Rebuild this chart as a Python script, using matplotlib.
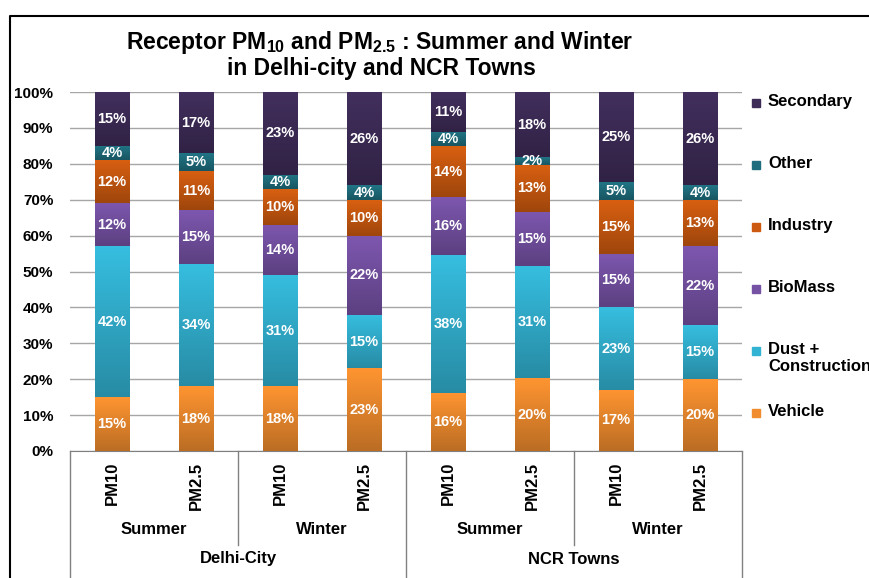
import matplotlib
matplotlib.use("Agg")
import matplotlib.pyplot as plt
from matplotlib.patches import Rectangle
from matplotlib.colors import LinearSegmentedColormap, to_rgb
from matplotlib.transforms import blended_transform_factory
import numpy as np

plt.rcParams['font.family'] = ['Liberation Sans Narrow', 'Liberation Sans', 'DejaVu Sans']
plt.rcParams['font.weight'] = 'bold'
plt.rcParams['mathtext.fontset'] = 'custom'
plt.rcParams['mathtext.rm'] = 'Liberation Sans:bold'
plt.rcParams['mathtext.default'] = 'rm'

# data (percent shares, bottom to top)
bar_labels = ["PM10", "PM2.5"] * 4
seasons = ["Summer", "Winter", "Summer", "Winter"]
regions = ["Delhi-City", "NCR Towns"]
sources = ["Vehicle", "Dust +\nConstruction", "BioMass", "Industry", "Other", "Secondary"]
vehicle = [15, 18, 18, 23, 16, 20, 17, 20]
dust = [42, 34, 31, 15, 38, 31, 23, 15]
biomass = [12, 15, 14, 22, 16, 15, 15, 22]
industry = [12, 11, 10, 10, 14, 13, 15, 13]
other = [4, 5, 4, 4, 4, 2, 5, 4]
secondary = [15, 17, 23, 26, 11, 18, 25, 26]
colors = ["#F08C2E", "#33B3D3", "#7652A5", "#CC5A10", "#1F6E7E", "#3E2C58"]

series = np.array([vehicle, dust, biomass, industry, other, secondary], dtype=float)
shares = series / series.sum(axis=0) * 100  # 100% stacked

fig = plt.figure(figsize=(8.7, 5.78), dpi=100)
W, H = 870, 578

def fx(px):
    return px / W

def fy(py):
    return 1 - py / H

def shade(c, f):
    return tuple(np.clip(np.array(to_rgb(c)) * f, 0, 1))

ax = fig.add_axes([fx(70), fy(451), fx(742) - fx(70), fy(92) - fy(451)])

x = np.arange(len(bar_labels))
grad = np.linspace(1, 0, 64).reshape(-1, 1)
bottom = np.zeros(len(x))
for vals, raw, c in zip(shares, series, colors):
    bars = ax.bar(x, vals, 0.405, bottom=bottom, color=c, zorder=3)
    cm = LinearSegmentedColormap.from_list("g", [shade(c, 0.78), shade(c, 1.06)])
    for p in bars:
        x0, y0 = p.get_x(), p.get_y()
        ax.imshow(grad, cmap=cm, aspect='auto', zorder=3.5, interpolation='bilinear',
                  extent=[x0, x0 + p.get_width(), y0, y0 + p.get_height()])
    for xi, b, v, r in zip(x, bottom, vals, raw):
        ax.text(xi, b + v / 2, "%d%%" % r, ha='center', va='center', color='white',
                fontsize=10.5, fontweight='bold', zorder=4)
    bottom += vals

ax.set_xlim(-0.5, 7.5)
ax.set_ylim(0, 100)
ax.set_yticks(np.arange(0, 101, 10))
ax.set_yticklabels(["%d%%" % v for v in range(0, 101, 10)], fontsize=11, fontweight='bold')
ax.yaxis.grid(True, color='#A6A6A6', linewidth=1, zorder=0)
ax.tick_params(axis='y', length=0, pad=12)
ax.tick_params(axis='x', length=0, pad=8)
ax.set_xticks(x)
ax.set_xticklabels(bar_labels, rotation=90, fontsize=12, fontweight='bold')
for s in ['left', 'right', 'top']:
    ax.spines[s].set_visible(False)
ax.spines['bottom'].set_color('#808080')

# multi-level category axis
tr = blended_transform_factory(ax.transData, ax.transAxes)
ph = 359.0
for i, s in enumerate(seasons):
    ax.text(2 * i + 0.5, -79 / ph, s, transform=tr, ha='center', va='center', fontsize=12, fontweight='bold')
for i, r in enumerate(regions):
    ax.text(4 * i + 1.5, -108 / ph, r, transform=tr, ha='center', va='center', fontsize=12, fontweight='bold')
for xs in [1.5, 5.5]:
    ax.plot([xs, xs], [0, -94 / ph], transform=tr, color='#808080', lw=1, clip_on=False)
for xs in [-0.5, 3.5, 7.5]:
    ax.plot([xs, xs], [0, -130 / ph], transform=tr, color='#808080', lw=1, clip_on=False)

# legend (top entry first)
for i, (name, c) in enumerate(zip(sources[::-1], colors[::-1])):
    ypx = 103 + 62 * i
    fig.patches.append(Rectangle((fx(752), fy(ypx + 4)), fx(8), 8 / H, color=c, transform=fig.transFigure))
    fig.text(fx(768), fy(ypx - 9), name, ha='left', va='top', fontsize=12, fontweight='bold', linespacing=1.2)

# title
fig.text(fx(380), fy(42), r"Receptor PM$_{10}$ and PM$_{2.5}$ : Summer and Winter",
         ha='center', va='center', fontsize=16.5, fontweight='bold')
fig.text(fx(381), fy(68), "in Delhi-city and NCR Towns", ha='center', va='center', fontsize=16.5, fontweight='bold')

# chart border
fig.lines.append(plt.Line2D([fx(10), fx(10), 1], [0, fy(16), fy(16)], transform=fig.transFigure,
                            color='black', lw=1.5))

fig.savefig("out.png", dpi=100)
